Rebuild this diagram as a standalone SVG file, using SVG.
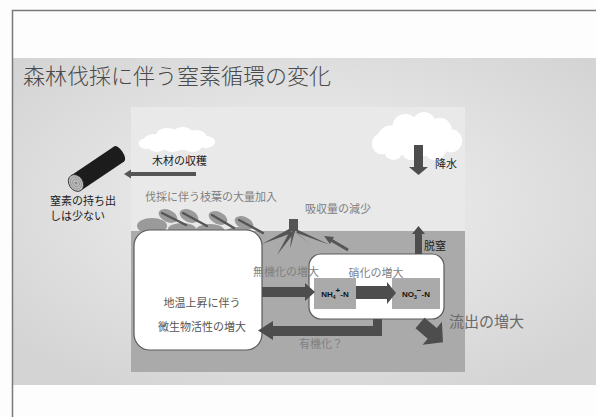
<svg xmlns="http://www.w3.org/2000/svg" xmlns:xlink="http://www.w3.org/1999/xlink" width="596" height="417" viewBox="0 0 596 417">
  <style>
    .jp { font-family: "Noto Sans CJK JP", "Noto Sans", sans-serif; }
    .lbl { font-size: 11px; fill: #222; }
    .soft { font-size: 11px; fill: #7f7f7f; }
    .box { fill: #ffffff; stroke: #5a5a5a; stroke-width: 1.2; }
    .ion { fill: #aaaaaa; }
    .ionText { font-family: "Liberation Sans", Arial, sans-serif; font-weight: bold; font-size: 8px; fill: #111; }
    .flow { fill: #4d4d4d; }
    .leaf { fill: #9a9a9a; }
    .twig { stroke: #555; stroke-width: 2.4; stroke-linecap: round; }
  </style>
  <defs>
    <radialGradient id="bandGrad" cx="0.5" cy="0.45" r="0.65">
      <stop offset="0" stop-color="#f2f2f2"/>
      <stop offset="1" stop-color="#d4d4d4"/>
    </radialGradient>
    <g id="cloud">
      <ellipse cx="50" cy="30" rx="42" ry="16"/>
      <circle cx="22" cy="28" r="14"/>
      <circle cx="38" cy="16" r="14"/>
      <circle cx="58" cy="13" r="13"/>
      <circle cx="75" cy="19" r="13"/>
      <circle cx="87" cy="30" r="12"/>
      <circle cx="13" cy="33" r="11"/>
      <circle cx="70" cy="38" r="12"/>
      <circle cx="45" cy="38" r="12"/>
      <circle cx="25" cy="40" r="10"/>
    </g>
  </defs>

  <!-- slide background and frame -->
  <rect x="0" y="0" width="596" height="417" fill="#fdfdfd"/>
  <rect x="12" y="58" width="584" height="327" fill="url(#bandGrad)"/>
  <path d="M12.5 417 V10.5 H596" fill="none" stroke="#7a7a7a" stroke-width="1.5"/>

  <text class="jp" x="23" y="84" font-size="22" font-weight="300" fill="#4a4a4a">森林伐採に伴う窒素循環の変化</text>

  <!-- ecosystem panel: air above, soil below -->
  <g id="panel">
    <rect x="131" y="107" width="334" height="124" fill="#e9e9e9"/>
    <rect x="131" y="231" width="334" height="141" fill="#aaaaaa"/>
  </g>

  <!-- clouds -->
  <g id="cloud-left" fill="#ffffff">
    <use xlink:href="#cloud" transform="translate(137 127) scale(0.79 0.5)"/>
  </g>
  <g id="cloud-right" fill="#ffffff">
    <use xlink:href="#cloud" transform="translate(370 112) scale(0.93 0.96)"/>
  </g>

  <!-- harvested log -->
  <g id="log" transform="translate(76 183) rotate(-34)">
    <rect x="0" y="-9" width="52" height="18" fill="#1c1c1c"/>
    <ellipse cx="52" cy="0" rx="4" ry="9" fill="#1c1c1c"/>
    <ellipse cx="0" cy="0" rx="7" ry="9" fill="#bdbdbd" stroke="#2a2a2a" stroke-width="0.8"/>
    <ellipse cx="0" cy="0" rx="5" ry="6.5" fill="none" stroke="#8a8a8a" stroke-width="0.7"/>
    <ellipse cx="0" cy="0" rx="3" ry="4" fill="none" stroke="#8a8a8a" stroke-width="0.7"/>
    <ellipse cx="0" cy="0" rx="1.2" ry="1.6" fill="#8a8a8a"/>
  </g>
  <g id="log-label" class="jp lbl">
    <text x="50" y="205">窒素の持ち出</text>
    <text x="50" y="219.5">しは少ない</text>
  </g>

  <!-- slash: branches and leaves left on the ground -->
  <g id="slash">
    <ellipse class="leaf" cx="152" cy="226" rx="15" ry="8"/>
    <ellipse class="leaf" cx="168" cy="216" rx="10" ry="6" transform="rotate(25 168 216)"/>
    <ellipse class="leaf" cx="189" cy="216" rx="10" ry="6" transform="rotate(25 189 216)"/>
    <ellipse class="leaf" cx="218" cy="218" rx="10" ry="6" transform="rotate(25 218 218)"/>
    <ellipse class="leaf" cx="244" cy="223" rx="10" ry="6" transform="rotate(25 244 223)"/>
    <ellipse class="leaf" cx="182" cy="229" rx="14" ry="6"/>
    <ellipse class="leaf" cx="210" cy="230" rx="14" ry="6"/>
    <ellipse class="leaf" cx="238" cy="232" rx="12" ry="5"/>
    <line class="twig" x1="162" y1="213" x2="186" y2="225"/>
    <line class="twig" x1="183" y1="213" x2="207" y2="226"/>
    <line class="twig" x1="212" y1="215" x2="234" y2="228"/>
    <line class="twig" x1="239" y1="220" x2="263" y2="233"/>
  </g>
  <text class="jp soft" x="145" y="201">伐採に伴う枝葉の大量加入</text>

  <!-- stump with roots -->
  <g id="roots" fill="#555">
    <rect x="289" y="219" width="9" height="12"/>
    <polygon points="289,229 262,244 292,233"/>
    <polygon points="290,231 277,255 294,233"/>
    <polygon points="292,231 290,249 295,231"/>
    <polygon points="294,231 311,245 297,233"/>
    <polygon points="296,229 330,245 297,233"/>
  </g>
  <text class="jp soft" x="305" y="213">吸収量の減少</text>

  <!-- process boxes -->
  <g id="microbes">
    <rect class="box" x="134" y="230" width="128" height="120" rx="16"/>
    <text class="jp" x="202" y="307" font-size="11" fill="#555" text-anchor="middle">地温上昇に伴う</text>
    <text class="jp" x="202" y="331" font-size="11" fill="#555" text-anchor="middle">微生物活性の増大</text>
  </g>
  <g id="nitrification">
    <rect class="box" x="309" y="254" width="135" height="65" rx="12"/>
    <text class="jp soft" x="376" y="277" text-anchor="middle">硝化の増大</text>
  </g>
  <g id="ammonium">
    <rect class="ion" x="314" y="278" width="42" height="31"/>
    <text class="ionText" x="335" y="297" text-anchor="middle">NH<tspan font-size="5" dy="2">4</tspan><tspan dy="-6">+</tspan><tspan dy="4">-N</tspan></text>
  </g>
  <g id="nitrate">
    <rect class="ion" x="392" y="278" width="48" height="31"/>
    <text class="ionText" x="416" y="297" text-anchor="middle">NO<tspan font-size="5" dy="2">3</tspan><tspan dy="-6">−</tspan><tspan dy="4">-N</tspan></text>
  </g>

  <!-- connectors -->
  <g id="connectors">
    <!-- timber harvest -->
    <rect x="130" y="172" width="66" height="4" fill="#555"/>
    <polygon points="124,174 131,169.5 131,178.5" fill="#555"/>
    <!-- precipitation -->
    <polygon class="flow" points="414,145 423,145 423,167 428,167 418.5,175 409,167 414,167"/>
    <!-- denitrification -->
    <polygon class="flow" points="415,254 422,254 422,234 425,234 418.5,226 412,234 415,234"/>
    <!-- mineralisation -->
    <polygon class="flow" points="262,287 305,287 305,283 315,292 305,301 305,297 262,297"/>
    <!-- nitrification -->
    <polygon class="flow" points="356,286 387,286 387,282 396,293 387,304 387,299 356,299"/>
    <!-- immobilisation back to microbes -->
    <polygon class="flow" points="373,319 382,319 382,336 273,336 273,340 258,330.5 273,321 273,326 373,326"/>
    <!-- reduced uptake -->
    <line x1="348" y1="250" x2="331" y2="240" stroke="#555" stroke-width="3"/>
    <polygon points="324,236 334,237 330,244" fill="#555"/>
    <!-- leaching -->
    <polygon class="flow" transform="translate(420 323) rotate(40)" points="0,-7 16,-7 16,-15 30,0 16,15 16,7 0,7"/>
  </g>

  <g id="labels" class="jp">
    <text class="lbl" x="152" y="165">木材の収穫</text>
    <text class="lbl" x="435" y="168" font-size="10">降水</text>
    <text class="lbl" x="424" y="250" font-size="10">脱窒</text>
    <text class="soft" x="253" y="276">無機化の増大</text>
    <text class="soft" x="299" y="348">有機化？</text>
    <text x="449" y="327" font-size="15" fill="#6a6a6a">流出の増大</text>
  </g>
</svg>
